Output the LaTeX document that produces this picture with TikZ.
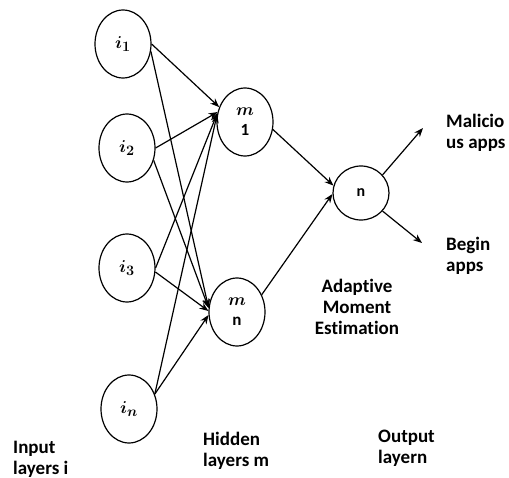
\documentclass[tikz,border=0pt]{standalone}
\usepackage{fontspec}
\setmainfont{Carlito}[Ligatures={NoCommon}]
\usetikzlibrary{shapes.geometric,arrows.meta}
\begin{document}
\begin{tikzpicture}[x=1pt,y=-1pt,
  neuron/.style={ellipse,draw,line width=1.2pt,minimum width=56pt,minimum height=68pt,inner sep=0pt,align=center},
  mlbl/.style={font=\fontsize{19}{21}\selectfont\boldmath},
  lbl/.style={font=\fontsize{19}{21}\selectfont\bfseries,align=left,inner sep=0pt,anchor=west},
  conn/.style={line width=1.2pt,-{Stealth[length=9pt,width=7pt]}}]
\useasboundingbox (0,0) rectangle (509,478);
% input layer
\node[neuron,mlbl] (i1) at (123,44) {$i_1$};
\node[neuron,mlbl] (i2) at (127,148) {$i_2$};
\node[neuron,mlbl] (i3) at (127,268) {$i_3$};
\node[neuron,mlbl] (in) at (129,409) {$i_n$};
% hidden layer
\node[neuron,font=\fontsize{17}{20}\selectfont\bfseries\boldmath] (m1) at (245,122) {$m$\\1};
\node[neuron,font=\fontsize{17}{20}\selectfont\bfseries\boldmath] (mn) at (237,312) {$m$\\n};
% output
\node[neuron,minimum height=54pt,font=\fontsize{16}{17}\selectfont\bfseries] (n) at (361,193) {n};
% free ends
\coordinate (mal) at (423,128);
\coordinate (ben) at (422,243);
% connections input -> hidden
\draw[conn] (i1.east) -- (m1.150);
\draw[conn] (i1.-15) -- (mn.172);
\draw[conn] (i2.east) -- (m1.160);
\draw[conn] (i2.-25) -- (mn.172);
\draw[conn] (i3.east) -- (m1.162);
\draw[conn] (i3.-8) -- (mn.178);
\draw[conn] (in.30) -- (m1.164);
\draw[conn] (in.30) -- (mn.186);
% hidden -> output
\draw[conn] (m1.-15) -- (n.165);
\draw[conn] (mn.35) -- (n.182);
% output -> classes
\draw[conn] (n.40) -- (mal);
\draw[conn] (n.-40) -- (ben);
% labels
\node[lbl] (tmal) at (446,133) {Malicio\\us apps};
\node[lbl] (tben) at (446,256) {Begin\\apps};
\node[lbl,align=center,anchor=center] (adam) at (357,307) {Adaptive\\Moment\\Estimation};
\node[lbl] (tin) at (13,459) {Input\\layers i};
\node[lbl] (thid) at (203,451) {Hidden\\layers m};
\node[lbl] (tout) at (378,448) {Output\\layern};
\end{tikzpicture}
\end{document}
